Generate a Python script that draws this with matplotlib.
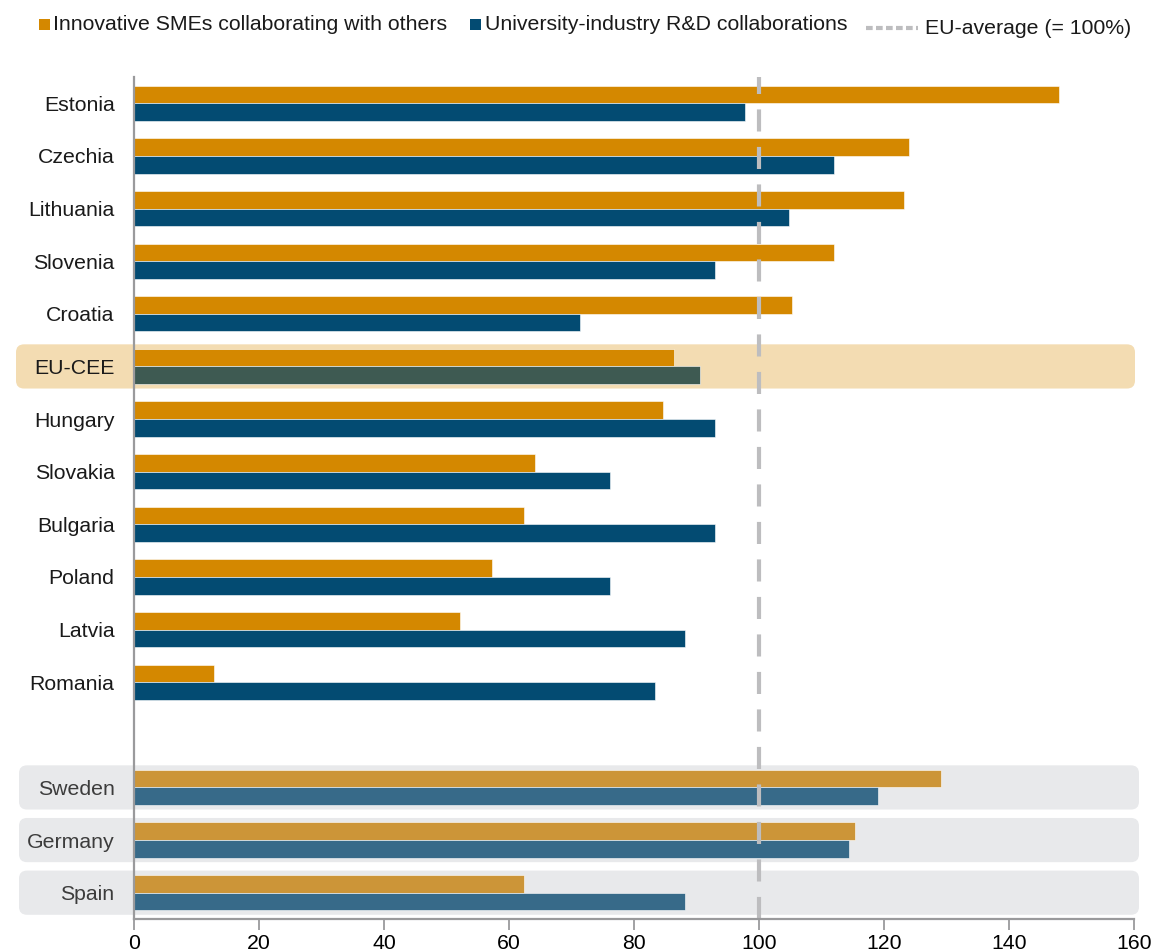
import matplotlib
matplotlib.use("Agg")
import matplotlib.pyplot as plt
from matplotlib.patches import FancyBboxPatch, Rectangle
from matplotlib.lines import Line2D

plt.rcParams['font.family'] = ['Liberation Sans', 'DejaVu Sans']

# Index values, EU average = 100
countries = ["Estonia", "Czechia", "Lithuania", "Slovenia", "Croatia", "EU-CEE",
             "Hungary", "Slovakia", "Bulgaria", "Poland", "Latvia", "Romania"]
smes_collab = [148.0, 124.0, 123.2, 112.0, 105.3, 86.4, 84.6, 64.2, 62.4, 57.3, 52.2, 12.8]
univ_industry = [97.8, 112.0, 104.8, 93.0, 71.4, 90.6, 93.0, 76.2, 93.0, 76.2, 88.2, 83.4]

benchmarks = ["Sweden", "Germany", "Spain"]
bench_smes = [129.1, 115.4, 62.4]
bench_univ = [119.0, 114.4, 88.2]

xticks = [0, 20, 40, 60, 80, 100, 120, 140, 160]
eu_average = 100

ORANGE = "#D48800"
BLUE = "#034B72"
CEE_BLUE = "#3E5A52"
ORANGE_LIGHT = "#CC9538"
BLUE_LIGHT = "#376A89"
CREAM = "#F3DCB2"
GREY_BOX = "#E8E9EB"
AXIS_GREY = "#9A9A9C"
FS = 15.3

W, H = 1156, 952
fig = plt.figure(figsize=(W / 100, H / 100), dpi=100)
ax = fig.add_axes([134 / W, 1 - 919 / H, 1000 / W, (919 - 77) / H])

bar_h = 0.335
y_main = list(range(len(countries)))
y_bench = [len(countries) + 1 + i for i in range(len(benchmarks))]

ax.set_xlim(0, 160)
ax.set_ylim(y_bench[-1] + 0.5, -0.5)

# pixel-per-unit ratios for rounded box corners
px_x = 1000 / 160
px_y = (919 - 77) / (y_bench[-1] + 1)
r_px = 8
r_x = r_px / px_x
aspect = (r_px / px_y) / r_x


def row_box(y, color, x0_px, x1_px, half=0.42):
    x0 = (x0_px - 134) / px_x
    x1 = (x1_px - 134) / px_x
    box = FancyBboxPatch((x0, y - half), x1 - x0, 2 * half,
                         boxstyle=f"round,pad=0,rounding_size={r_x}",
                         mutation_aspect=aspect, facecolor=color,
                         edgecolor="none", clip_on=False, zorder=0)
    ax.add_patch(box)


row_box(y_main[countries.index("EU-CEE")], CREAM, 16, 1135)
for yb in y_bench:
    row_box(yb, GREY_BOX, 19, 1139)

# CEE countries
blue_colors = [CEE_BLUE if c == "EU-CEE" else BLUE for c in countries]
ax.barh([y - bar_h / 2 for y in y_main], smes_collab, height=bar_h,
        color=ORANGE, edgecolor="white", linewidth=0.4, zorder=2)
ax.barh([y + bar_h / 2 for y in y_main], univ_industry, height=bar_h,
        color=blue_colors, edgecolor="white", linewidth=0.4, zorder=2)

# Benchmark countries
ax.barh([y - bar_h / 2 for y in y_bench], bench_smes, height=bar_h,
        color=ORANGE_LIGHT, edgecolor="white", linewidth=0.4, zorder=2)
ax.barh([y + bar_h / 2 for y in y_bench], bench_univ, height=bar_h,
        color=BLUE_LIGHT, edgecolor="white", linewidth=0.4, zorder=2)

# EU average reference
ax.axvline(eu_average, color="#BDBDBF", linewidth=3, linestyle=(0, (5.3, 3.7)),
           zorder=3)

ax.set_yticks(y_main + y_bench)
ax.set_yticklabels(countries + benchmarks, fontsize=FS)
for lbl in ax.get_yticklabels():
    lbl.set_color("#3C3C3C" if lbl.get_text() in benchmarks else "#1A1A1A")
ax.tick_params(axis="y", length=0, pad=14)

ax.set_xticks(xticks)
ax.set_xticklabels([str(t) for t in xticks], fontsize=FS)
ax.tick_params(axis="x", length=8, width=1.3, color=AXIS_GREY, pad=3)

for s in ["top", "right"]:
    ax.spines[s].set_visible(False)
for s in ["left", "bottom"]:
    ax.spines[s].set_color(AXIS_GREY)
    ax.spines[s].set_linewidth(1.6)
    ax.spines[s].set_zorder(4)

# Legend row
leg_y = 1 - 25 / H
fig.patches.append(Rectangle((39 / W, 1 - 30 / H), 11 / W, 11 / H,
                             transform=fig.transFigure, facecolor=ORANGE,
                             edgecolor="none"))
fig.text(53 / W, leg_y, "Innovative SMEs collaborating with others",
         fontsize=FS, va="center", ha="left", color="#1A1A1A")
fig.patches.append(Rectangle((470 / W, 1 - 30 / H), 11 / W, 11 / H,
                             transform=fig.transFigure, facecolor=BLUE,
                             edgecolor="none"))
fig.text(485 / W, leg_y, "University-industry R&D collaborations",
         fontsize=FS, va="center", ha="left", color="#1A1A1A")
fig.lines.append(Line2D([866 / W, 918 / W], [1 - 28 / H, 1 - 28 / H],
                        transform=fig.transFigure, color="#BDBDBF",
                        linewidth=3, linestyle=(0, (1.6, 0.8))))
fig.text(925 / W, 1 - 28 / H, "EU-average (= 100%)",
         fontsize=FS, va="center", ha="left", color="#1A1A1A")

fig.savefig("out.png", dpi=100)
